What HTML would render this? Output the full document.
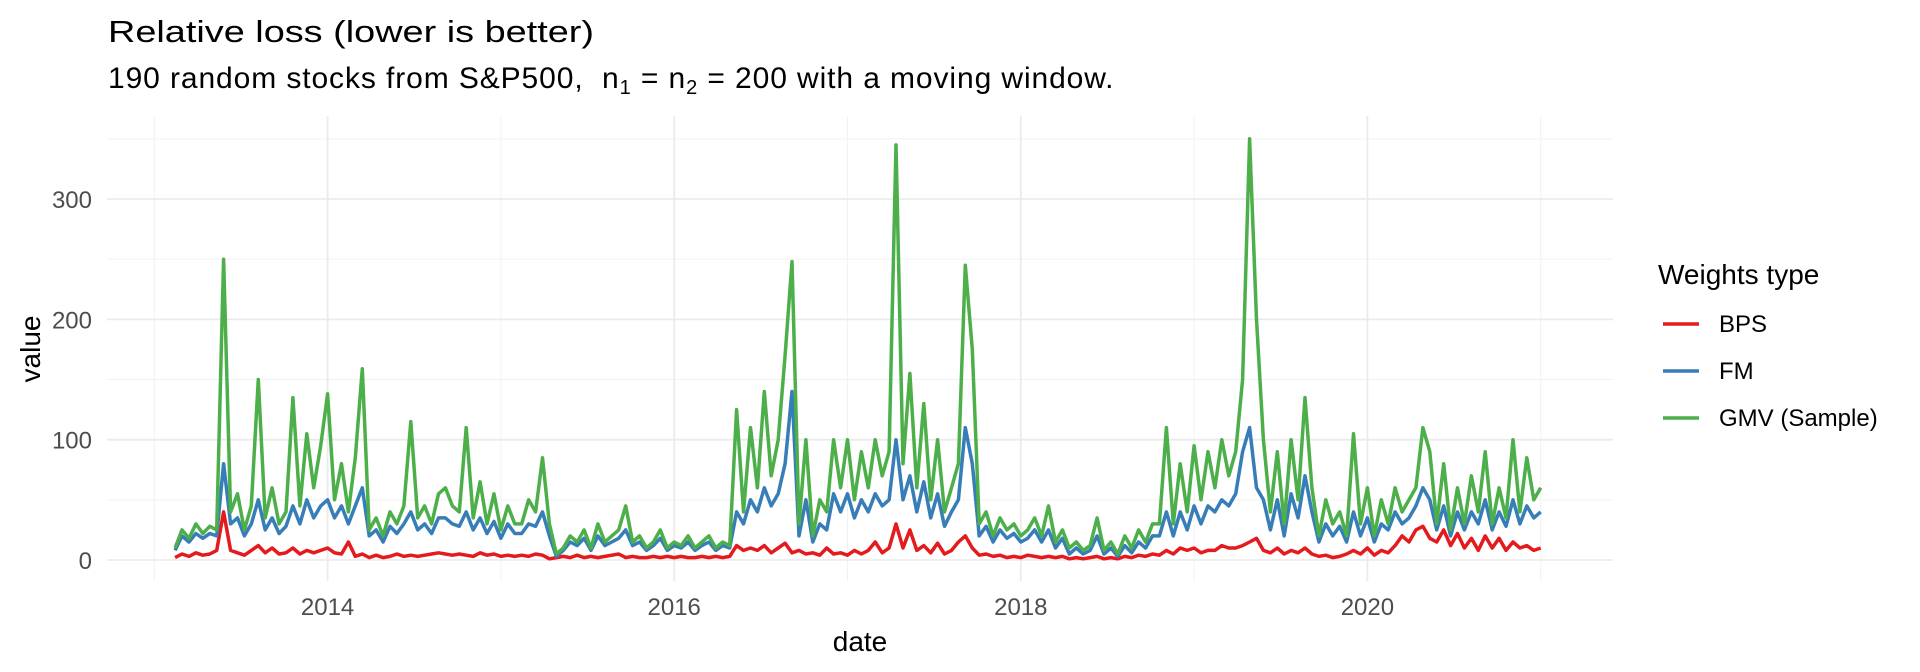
<!DOCTYPE html>
<html><head><meta charset="utf-8"><style>
body{margin:0;background:#fff;}
svg{display:block;font-family:"Liberation Sans",Arial,sans-serif;}
</style></head><body>
<svg id="chart" width="1920" height="672" viewBox="0 0 1920 672" xmlns="http://www.w3.org/2000/svg">
<rect width="1920" height="672" fill="#fff"/>
<text x="108" y="42" font-size="31" fill="#000" textLength="486" lengthAdjust="spacingAndGlyphs">Relative loss (lower is better)</text>
<text x="108" y="88" font-size="30" letter-spacing="0.9" style="white-space:pre" fill="#000">190 random stocks from S&amp;P500,  n<tspan font-size="20" dy="6">1</tspan><tspan dy="-6"> = n</tspan><tspan font-size="20" dy="6">2</tspan><tspan dy="-6"> = 200 with a moving window.</tspan></text>
<g id="grid"></g>
<g id="series"></g>
<g id="axes"></g>
<text x="860" y="651" font-size="28" text-anchor="middle" fill="#000">date</text>
<text transform="translate(40,349) rotate(-90)" font-size="28" text-anchor="middle" fill="#000">value</text>
<g>
<text x="1658" y="284" font-size="28" fill="#000">Weights type</text>
<g><line x1="1663" x2="1699" y1="324" y2="324" stroke="#E41A1C" stroke-width="3.5"/><text x="1719" y="332" font-size="24" fill="#000">BPS</text></g>
<g><line x1="1663" x2="1699" y1="371" y2="371" stroke="#377EB8" stroke-width="3.5"/><text x="1719" y="379" font-size="24" fill="#000">FM</text></g>
<g><line x1="1663" x2="1699" y1="418" y2="418" stroke="#4DAF4A" stroke-width="3.5"/><text x="1719" y="426" font-size="24" fill="#000">GMV (Sample)</text></g>
</g>
</svg>
<script>
const startYear = 2013.12;
const stepYear = 0.04;
const gmvValues = [10,25,18,30,22,28,25,250,40,55,25,45,150,35,60,30,40,135,45,105,60,95,138,50,80,
40,85,159,25,35,20,40,30,45,115,35,45,30,55,60,45,40,110,35,65,30,55,25,45,30,
30,50,40,85,30,5,10,20,15,25,10,30,15,20,25,45,15,20,10,15,25,10,15,12,20,
10,15,20,10,15,12,125,40,110,60,140,70,100,170,248,30,100,20,50,40,100,60,100,50,90,
60,100,70,90,345,80,155,60,130,50,100,40,60,80,245,175,30,40,20,35,25,30,20,25,35,
20,45,15,25,10,15,8,12,35,8,15,5,20,10,25,15,30,30,110,30,80,40,95,50,90,
60,100,70,90,150,350,200,100,40,90,30,100,50,135,60,20,50,30,40,20,105,30,60,20,50,
30,60,40,50,60,110,90,30,80,25,60,30,70,40,90,30,60,35,100,40,85,50,60];
const fmValues = [8,20,15,22,18,22,20,80,30,35,20,30,50,25,35,22,28,45,30,50,35,45,50,35,45,
30,45,60,20,25,15,28,22,30,40,25,30,22,35,35,30,28,40,25,35,22,32,18,30,22,
22,30,28,40,20,3,8,15,12,18,8,20,12,15,18,25,12,15,8,12,18,8,12,10,15,
8,12,15,8,12,10,40,30,50,40,60,45,55,80,140,20,50,15,30,25,55,40,55,35,50,
40,55,45,50,100,50,70,40,65,35,55,28,40,50,110,80,20,28,15,25,18,22,15,18,25,
15,25,10,18,5,10,5,8,20,5,10,3,12,6,15,10,20,20,40,20,40,25,45,30,45,
40,50,45,55,90,110,60,50,25,50,20,55,35,70,40,15,30,20,28,15,40,20,35,15,30,
25,40,30,35,45,60,50,25,45,20,40,25,40,30,50,25,40,28,50,30,45,35,40];
const bpsValues = [2,5,3,6,4,5,8,40,8,6,4,8,12,6,10,5,6,10,5,8,6,8,10,6,5,
15,3,5,2,4,2,3,5,3,4,3,4,5,6,5,4,5,4,3,6,4,5,3,4,3,
4,3,5,4,1,2,3,2,4,2,3,2,3,4,5,2,3,2,2,3,2,3,2,3,2,
2,3,2,3,2,3,12,8,10,8,12,6,10,14,6,8,5,6,4,10,5,6,4,8,5,
8,15,6,10,30,10,25,8,12,6,14,5,8,15,20,10,4,5,3,4,2,3,2,4,3,
2,3,2,3,1,2,1,2,3,1,2,1,3,2,4,3,5,4,8,5,10,8,10,6,8,
8,12,10,10,12,15,18,8,6,10,5,8,6,10,5,3,4,2,3,5,8,5,10,4,8,
6,12,20,15,25,28,18,15,25,12,22,10,18,8,20,10,18,8,15,10,12,8,10];
const xTicks = [2014, 2016, 2018, 2020];
const xMinor = [2013, 2015, 2017, 2019, 2021];
const yTicks = [0, 100, 200, 300];
const yMinor = [50, 150, 250, 350];

const NS = "http://www.w3.org/2000/svg";
const L = 107, R = 1613, T = 116, B = 581;
const xScale = y => 327.6 + (y - 2014) * 173.3;
const yScale = v => 560 - v * 1.2033;
function mk(tag, attrs, parent) {
  const e = document.createElementNS(NS, tag);
  for (const k in attrs) e.setAttribute(k, attrs[k]);
  parent.appendChild(e);
  return e;
}
const grid = document.getElementById('grid');
const axes = document.getElementById('axes');
yMinor.forEach(v => {
  const l = mk('line', {x1: L, x2: R, y1: yScale(v), y2: yScale(v), stroke: '#f2f2f2', 'stroke-width': 1}, grid);
  
  
});
xMinor.forEach(v => {
  const l = mk('line', {x1: xScale(v), x2: xScale(v), y1: T, y2: B, stroke: '#f2f2f2', 'stroke-width': 1}, grid);
  
  
});
yTicks.forEach(v => {
  const l = mk('line', {x1: L, x2: R, y1: yScale(v), y2: yScale(v), stroke: '#ebebeb', 'stroke-width': 1.8}, grid);
  
  
  const t = mk('text', {x: 92, y: yScale(v) + 9, 'font-size': 24, 'text-anchor': 'end', fill: '#4d4d4d'}, axes);
  t.textContent = v;
  
  
});
xTicks.forEach(v => {
  const l = mk('line', {x1: xScale(v), x2: xScale(v), y1: T, y2: B, stroke: '#ebebeb', 'stroke-width': 1.8}, grid);
  
  
  const t = mk('text', {x: xScale(v), y: 615, 'font-size': 24, 'text-anchor': 'middle', fill: '#4d4d4d'}, axes);
  t.textContent = v;
  
  
});
const series = document.getElementById('series');
[[bpsValues, '#E41A1C', 'bps-line'], [fmValues, '#377EB8', 'fm-line'], [gmvValues, '#4DAF4A', 'gmv-line']].forEach(([vals, col, name]) => {
  const d = vals.map((v, i) => (i ? 'L' : 'M') + xScale(startYear + i * stepYear).toFixed(1) + ',' + yScale(v).toFixed(1)).join('');
  const p = mk('path', {d: d, fill: 'none', stroke: col, 'stroke-width': 3.5, 'stroke-linejoin': 'round'}, series);
  
  
});
</script>
</body></html>
